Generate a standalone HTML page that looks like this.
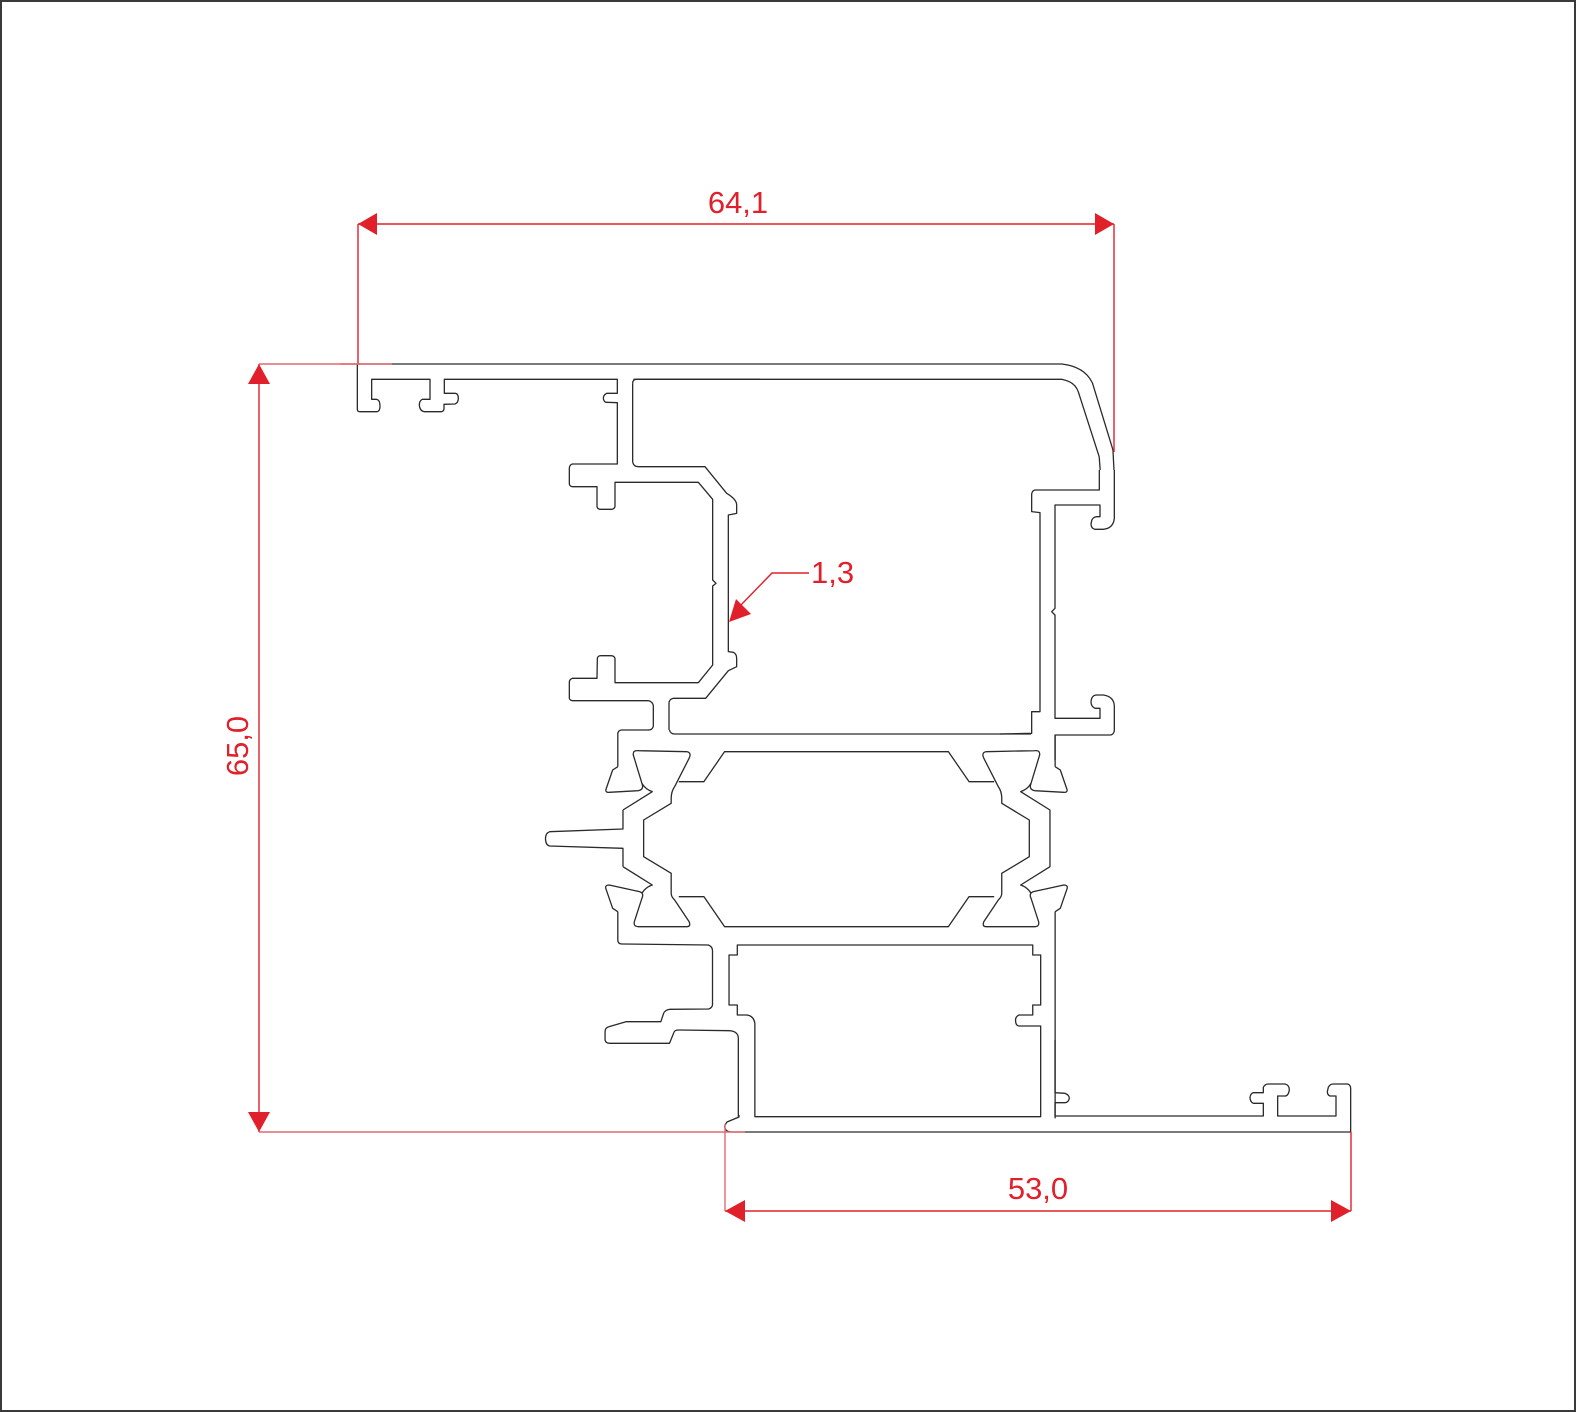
<!DOCTYPE html>
<html><head><meta charset="utf-8"><style>
html,body{margin:0;padding:0;background:#fff;}
svg{display:block;}
.p{fill:none;stroke:#2a2a2a;stroke-width:1.3;vector-effect:non-scaling-stroke;stroke-linejoin:round;}
.r{fill:none;stroke:#e0202a;stroke-width:1.4;}
.rl{fill:none;stroke:#e06a70;stroke-width:1.4;}
.a{fill:#e0202a;stroke:none;}
.t{font-family:"Liberation Sans",sans-serif;font-size:31px;fill:#e0202a;}
</style></head><body>
<svg width="1576" height="1412" viewBox="0 0 1576 1412" xmlns="http://www.w3.org/2000/svg">
<rect x="1" y="1" width="1574" height="1410" fill="#fff" stroke="#3a3a3a" stroke-width="2"/>

<!-- zoom6 region: top outer contour -->
<g transform="translate(340,170) scale(0.5102,0.33333)">
<path class="p" d="M35,582 L1415,582 Q1460,590 1475,640 L1515,840 L1517,900"/>
<path class="p" d="M575,628 L1415,628 Q1440,635 1447,665 L1488,860 L1490,900"/>
</g>

<!-- zoom1 region -->
<g transform="translate(340,350) scale(0.33333)">
<path class="p" d="M52,42 L52,178 Q52,185 60,185 L112,185 Q120,183 120,168 Q120,150 110,148 L95,148 L95,88 L270,88 L270,148 L247,148 Q238,152 238,165 Q240,185 255,185 L305,185 Q312,183 312,175 L312,163 L345,162 Q355,158 355,145 Q355,130 345,130 L313,130 L313,88 L832,88 L832,130 L800,130 Q790,135 790,145 Q792,157 800,157 L832,158 L832,342 L697,342 Q688,345 688,355 L688,402 Q690,410 698,410 L771,410 L771,470 Q773,478 782,478 L815,478 Q825,476 825,468 L825,397 L1075,397 L1118,448 L1118,690 L1128,700 L1118,708 L1118,945 L1075,998 L825,998 L825,925 Q822,917 813,917 L782,917 Q772,918 772,927 L771,985 L697,985 Q688,988 688,997 L688,1045 Q690,1052 699,1052 L925,1052 Q938,1055 940,1067 L940,1128 Q938,1140 925,1140"/>
<path class="p" d="M878,100 Q878,88 890,88 L1260,88"/>
<path class="p" d="M878,100 L878,335 Q880,350 895,350 L1095,350 L1160,430 Q1190,448 1190,465 L1190,490 L1165,495 L1165,905 L1180,907 Q1190,912 1190,925 L1190,950 L1165,962 L1097,1045 L999,1045 Q987,1048 987,1060 L987,1140"/>
</g>

<!-- zoom3 region: right side -->
<g transform="translate(1000,440) scale(0.33333)">
<path class="p" d="M298,90 L298,150 L105,150 Q95,152 95,165 L95,215 L120,218 L120,815 L95,815 L95,880 L0,882"/>
<path class="p" d="M343,90 L343,235 Q340,265 310,268 L285,268 Q273,265 273,252 L275,242 Q278,232 290,230 L300,230 L300,195 L165,195 L165,505 L155,515 L165,525 L165,835 L300,835 L300,805 L285,805 Q273,800 273,785 Q275,765 290,765 L310,765 Q343,770 343,800 L343,873 Q340,885 330,885 L165,885 L165,960"/>
</g>

<!-- zoom2 region: thermal break + lower -->
<g transform="translate(530,730) scale(0.34435,0.33333)">
<path class="p" d="M345,0 L265,0 Q255,2 255,12 L255,110"/>
<path class="p" d="M405,0 Q408,12 420,12 L1455,12"/>
<g id="lf">
<path class="p" d="M255,110 L240,120 L220,180 Q220,188 230,187 L315,182 Q332,178 325,160 L300,75 Q298,60 315,62 L455,65 Q470,68 462,85 L420,170 Q410,185 410,205 L410,220 L330,270 L330,380 L410,430 L410,490 Q410,500 420,510 L462,575 Q468,590 455,590 L315,590 Q300,590 303,575 L325,505 Q332,490 318,485 L230,465 Q218,465 220,475 L240,535 L255,545"/>
<path class="p" d="M325,160 Q335,178 355,185 L270,240"/>
<path class="p" d="M270,410 L355,465 Q335,472 325,490"/>
</g>
<g transform="translate(1780,0) scale(-1,1)">
<path class="p" d="M255,110 L240,120 L220,180 Q220,188 230,187 L315,182 Q332,178 325,160 L300,75 Q298,60 315,62 L455,65 Q470,68 462,85 L420,170 Q410,185 410,205 L410,220 L330,270 L330,380 L410,430 L410,490 Q410,500 420,510 L462,575 Q468,590 455,590 L315,590 Q300,590 303,575 L325,505 Q332,490 318,485 L230,465 Q218,465 220,475 L240,535 L255,545"/>
<path class="p" d="M325,160 Q335,178 355,185 L270,240 L270,410 L355,465 Q335,472 325,490"/>
</g>
<path class="p" d="M270,240 L270,297 L57,305 Q45,310 45,325 Q45,345 57,348 L270,355 L270,410"/>
<path class="p" d="M432,155 L505,155 L565,65 L1215,65 L1275,155 L1348,155"/>
<path class="p" d="M432,500 L505,500 L565,590 L1215,590 L1275,500 L1348,500"/>
<path class="p" d="M255,545 L255,630 Q255,642 267,642 L518,645 Q530,650 530,662 L530,825 Q528,835 518,837 L405,838 Q392,840 388,850 L380,875 L280,875 L230,890 Q218,893 218,905 L218,930 Q220,940 232,940 L405,940 L418,907 Q420,900 432,900 L580,902 Q605,905 605,925 L605,1160"/>
<path class="p" d="M1525,15 L1525,110"/>
<path class="p" d="M1525,545 L1525,1165"/>
<path class="p" d="M602,645 L1460,645 L1460,675 L1483,675 L1483,825 L1460,825 L1460,855 L1420,855 Q1410,860 1410,870 Q1410,887 1420,888 L1483,888 L1483,1160 L653,1160 L653,880 Q650,858 630,855 L602,855 L602,825 L578,825 L578,675 L602,675 Z"/>
</g>

<!-- zoom4 region: bottom right -->
<g transform="translate(1020,1040) scale(0.33333)">
<path class="p" d="M105,0 L105,158 L135,160 Q148,165 148,175 Q145,188 135,188 L105,188 L105,228 L730,228 L730,190 L700,190 Q690,185 690,172 Q692,160 700,158 L730,158 L730,142 Q735,132 745,132 L795,132 Q808,135 808,150 Q805,168 795,168 L773,168 L773,228 L948,228 L948,168 L930,168 Q922,165 922,155 L925,142 Q930,132 940,132 L983,132 Q992,135 992,145 L992,276"/>
</g>
<path class="p" d="M739,1115 L739,1117 L727,1122 Q724,1126 725,1128 Q726,1132 732,1132 L1351,1132"/>

<!-- dimensions -->
<!-- 64,1 -->
<line class="r" x1="358" y1="224" x2="1114" y2="224"/>
<line class="r" x1="358" y1="224" x2="358" y2="364"/>
<line class="r" x1="1114" y1="224" x2="1114" y2="452"/>
<line class="rl" x1="340" y1="364" x2="392" y2="364"/>
<polygon class="a" points="358,224 377,213 377,235"/>
<polygon class="a" points="1114,224 1095,213 1095,235"/>
<text class="t" x="738" y="213" text-anchor="middle">64,1</text>

<!-- 65,0 -->
<line class="r" x1="259" y1="364" x2="259" y2="1132"/>
<line class="rl" x1="259" y1="364" x2="360" y2="364"/>
<line class="rl" x1="259" y1="1132" x2="745" y2="1132"/>
<polygon class="a" points="259,364 248,384 270,384"/>
<polygon class="a" points="259,1132 248,1112 270,1112"/>
<text class="t" x="0" y="0" text-anchor="middle" transform="translate(248,746) rotate(-90)">65,0</text>

<!-- 53,0 -->
<line class="r" x1="725" y1="1211" x2="1351" y2="1211"/>
<line class="rl" x1="725" y1="1124" x2="725" y2="1211"/>
<line class="r" x1="1351" y1="1132" x2="1351" y2="1211"/>
<polygon class="a" points="725,1211 745,1200 745,1222"/>
<polygon class="a" points="1351,1211 1331,1200 1331,1222"/>
<text class="t" x="1038" y="1199" text-anchor="middle">53,0</text>

<!-- 1,3 leader -->
<polyline class="r" points="809,573 772,573 740,606"/>
<polygon class="a" points="729,622 736,599 751,614"/>
<text class="t" x="811" y="583">1,3</text>
</svg>
</body></html>
